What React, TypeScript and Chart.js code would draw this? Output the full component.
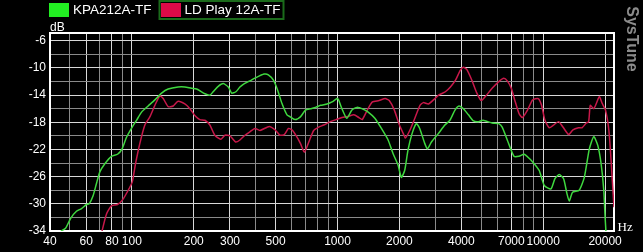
import React, { useEffect, useRef } from "react";
import { Chart, registerables } from "chart.js";

Chart.register(...registerables);

const seriesNames = ["KPA212A-TF", "LD Play 12A-TF"];

const kpaFreq = [45.2, 47.6, 50.5, 53.8, 56.9, 60.2, 62.0, 64.8, 67.3, 69.9, 73.9, 79.6, 85.2, 89.7, 94.2, 100.4, 105.4, 111.5, 120, 129.4, 139.5, 150.2, 167.9, 181, 195, 206.6, 226.5, 239.5, 248.5, 263, 278.3, 294.5, 305.9, 320.6, 335.4, 348.1, 375, 396.8, 439.2, 461, 488, 510.6, 536.5, 567.9, 589.4, 623.7, 660, 698.5, 739, 782, 827.6, 890, 940.7, 995, 1012, 1051, 1110, 1175, 1244, 1337, 1410, 1519, 1635, 1762, 1862, 1970, 2044, 2121, 2201, 2302, 2418, 2510, 2655, 2736, 2863, 3085, 3326, 3521, 3726, 3899, 4091, 4332, 4586, 4853, 5100, 5646, 6082, 6320, 6690, 7210, 7630, 8075, 8546, 9044, 9570, 10128, 10910, 11410, 11970, 12570, 13050, 13390, 13900, 14970, 15850, 16770, 17620, 18430, 19130, 19710, 20010, 20230];
const kpaDb = [-34, -33.6, -32.1, -31.1, -30.7, -30.1, -30.0, -28.8, -27.0, -25.3, -24.1, -23.0, -22.7, -21.9, -20.2, -18.7, -17.7, -16.5, -15.6, -14.7, -13.7, -13.1, -12.8, -12.8, -13.0, -13.1, -13.8, -14.0, -13.5, -12.7, -12.3, -12.8, -13.7, -13.5, -12.8, -12.4, -11.9, -11.5, -10.9, -11.0, -11.8, -13.2, -15.2, -16.9, -17.2, -17.6, -17.2, -16.2, -16.0, -15.8, -15.5, -15.3, -15.0, -14.5, -14.7, -16.0, -17.4, -16.2, -15.8, -16.1, -16.5, -17.4, -18.9, -20.6, -22.6, -24.3, -26.1, -25.1, -22.1, -19.7, -18.2, -18.9, -21.1, -21.9, -20.9, -19.7, -18.4, -17.7, -16.2, -15.6, -16.0, -16.9, -17.8, -17.9, -17.7, -18.1, -18.2, -18.7, -20.6, -23.0, -23.0, -22.7, -23.3, -24.1, -25.1, -27.3, -27.8, -26.3, -25.7, -26.3, -28.5, -29.6, -28.3, -28.0, -26.1, -21.9, -20.1, -21.4, -24.1, -28.0, -32.0, -34.5];

const ldFreq = [71.6, 75.3, 79.6, 85.2, 90.7, 96, 100.4, 104.2, 109.4, 115.7, 122.3, 129.4, 136.9, 142.1, 150.2, 158.9, 167.9, 181, 191.6, 202.4, 214, 226.5, 239.5, 253.3, 270.4, 283.6, 300, 319.6, 335.4, 354.7, 375, 396.8, 419.7, 466, 496.5, 525, 551, 577.7, 600, 627, 660, 690, 725, 766, 810, 857, 922, 985, 1051, 1133, 1200, 1271, 1319, 1396, 1478, 1593, 1705, 1785, 1890, 2000, 2091, 2140, 2245, 2377, 2518, 2613, 2766, 2929, 3101, 3345, 3540, 3747, 3945, 4091, 4251, 4501, 4760, 5003, 5235, 5646, 6082, 6434, 6690, 7000, 7270, 7630, 7930, 8390, 8880, 9460, 9820, 10200, 10700, 11230, 11880, 12480, 13300, 13960, 14860, 15440, 16210, 16640, 16950, 17600, 18150, 18770, 19350, 20100, 20870, 21440, 22090];
const ldDb = [-34, -31.5, -30.3, -30.1, -29.3, -28.0, -26.8, -24.1, -21.1, -18.4, -17.2, -15.5, -14.1, -14.5, -15.7, -15.6, -14.9, -15.3, -16.0, -17.0, -17.6, -17.7, -18.4, -19.9, -20.5, -19.9, -20.0, -20.9, -20.6, -19.9, -19.4, -18.9, -19.2, -18.6, -19.1, -19.9, -19.8, -18.9, -19.1, -19.9, -21.1, -22.4, -20.9, -19.2, -18.7, -18.4, -17.9, -17.6, -17.3, -17.1, -16.9, -17.3, -17.6, -16.2, -15.0, -14.8, -14.5, -14.8, -16.2, -18.4, -19.7, -20.3, -19.2, -17.4, -15.5, -15.1, -15.3, -14.7, -14.0, -13.5, -12.8, -11.8, -10.4, -9.9, -10.2, -11.8, -13.7, -14.8, -14.2, -13.0, -12.0, -11.5, -11.9, -13.0, -14.7, -16.7, -17.3, -16.2, -14.7, -14.5, -15.5, -17.7, -18.8, -18.4, -17.9, -18.7, -19.8, -19.1, -18.8, -18.8, -18.1, -17.9, -15.5, -16.0, -15.2, -14.2, -15.2, -16.2, -19.2, -24.1, -30.5];

const xGridTicks = [40, 50, 60, 70, 80, 90, 100, 200, 300, 400, 500, 600, 700, 800, 900, 1000, 2000, 3000, 4000, 5000, 6000, 7000, 8000, 9000, 10000, 20000];
const xLabelTicks = [40, 60, 80, 100, 200, 300, 500, 1000, 2000, 4000, 7000, 10000, 20000];
const yGridTicks = [-34, -32, -30, -28, -26, -24, -22, -20, -18, -16, -14, -12, -10, -8, -6];
const yLabelTicks = [-34, -30, -26, -22, -18, -14, -10, -6];

const X_MIN = 40;
const X_MAX = 22100;
const Y_MIN = -34;
const Y_MAX = -4.85;

const GREEN_LINE = "#3fd83f";
const RED_LINE = "#c8184a";
const GREEN_BOX = "#22ee22";
const RED_BOX = "#dc0a48";
const MAJOR_GRID = "#d8d8d8";
const MINOR_GRID = "#8a8a8a";

const decorPlugin = {
  id: "decor",
  beforeDraw(chart: any) {
    const ctx = chart.ctx;
    ctx.save();
    ctx.fillStyle = "#000";
    ctx.fillRect(0, 0, chart.width, chart.height);
    ctx.restore();
  },
  beforeDatasetsDraw(chart: any) {
    const { ctx, chartArea } = chart;
    ctx.save();
    ctx.strokeStyle = "#ffffff";
    ctx.lineWidth = 2;
    ctx.strokeRect(chartArea.left, chartArea.top, chartArea.right - chartArea.left, chartArea.bottom - chartArea.top);
    ctx.restore();
  },
  afterDraw(chart: any) {
    const { ctx, chartArea } = chart;
    ctx.save();
    // Legend
    ctx.font = "13.5px 'Liberation Sans', Arial, sans-serif";
    ctx.textBaseline = "middle";
    ctx.textAlign = "left";
    ctx.fillStyle = GREEN_BOX;
    ctx.fillRect(49, 3, 20, 14);
    ctx.fillStyle = "#ffffff";
    ctx.fillText(seriesNames[0], 73, 10.5);
    ctx.fillStyle = RED_BOX;
    ctx.fillRect(161, 3, 20, 14);
    ctx.fillStyle = "#ffffff";
    ctx.fillText(seriesNames[1], 184.5, 10.5);
    ctx.strokeStyle = "#1b6b1b";
    ctx.lineWidth = 2;
    ctx.strokeRect(159.5, 1, 124, 18);
    // axis units
    ctx.textBaseline = "alphabetic";
    ctx.font = "12px 'Liberation Sans', Arial, sans-serif";
    ctx.fillStyle = "#ffffff";
    ctx.fillText("dB", chartArea.left, chartArea.top - 2.5);
    ctx.font = "13px 'Liberation Serif', serif";
    ctx.fillText("Hz", chartArea.right + 3.5, chartArea.bottom);
    // watermark
    ctx.translate(631.5, 39);
    ctx.rotate(Math.PI / 2);
    ctx.textAlign = "center";
    ctx.textBaseline = "middle";
    ctx.font = "bold 16px 'Liberation Sans', Arial, sans-serif";
    ctx.fillStyle = "#8c8c8c";
    ctx.fillText("SysTune", 0, 0);
    ctx.restore();
  },
};

export default function App() {
  const canvasRef = useRef<HTMLCanvasElement | null>(null);

  useEffect(() => {
    document.body.style.margin = "0";
    const canvas = canvasRef.current;
    if (!canvas) return;
    const kpaPts = kpaFreq.map((f, i) => ({ x: f, y: kpaDb[i] }));
    const ldPts = ldFreq.map((f, i) => ({ x: f, y: ldDb[i] }));
    const chart = new Chart(canvas, {
      type: "line",
      data: {
        datasets: [
          { label: seriesNames[0], data: kpaPts, borderColor: GREEN_LINE, backgroundColor: GREEN_LINE, borderWidth: 1.5, pointRadius: 0, tension: 0.2, fill: false },
          { label: seriesNames[1], data: ldPts, borderColor: RED_LINE, backgroundColor: RED_LINE, borderWidth: 1.5, pointRadius: 0, tension: 0.2, fill: false },
        ],
      },
      options: {
        animation: false,
        responsive: true,
        maintainAspectRatio: false,
        layout: { padding: { top: 33, right: 29, left: 0, bottom: 0 } },
        plugins: { legend: { display: false }, tooltip: { enabled: false } },
        scales: {
          x: {
            type: "logarithmic",
            min: X_MIN,
            max: X_MAX,
            afterBuildTicks: (scale: any) => {
              scale.ticks = xGridTicks.map((v) => ({ value: v }));
            },
            afterFit: (scale: any) => {
              scale.height = 21;
            },
            ticks: {
              autoSkip: false,
              maxRotation: 0,
              minRotation: 0,
              padding: 3,
              color: "#ffffff",
              font: { family: "'Liberation Sans', Arial, sans-serif", size: 12 },
              callback: (v: any) => (xLabelTicks.includes(Number(v)) ? String(v) : ""),
            },
            grid: {
              drawTicks: false,
              lineWidth: 1,
              color: (c: any) => (c.tick && xLabelTicks.includes(c.tick.value) ? MAJOR_GRID : MINOR_GRID),
            },
            border: { display: false },
          },
          y: {
            type: "linear",
            min: Y_MIN,
            max: Y_MAX,
            afterBuildTicks: (scale: any) => {
              scale.ticks = yGridTicks.map((v) => ({ value: v }));
            },
            afterFit: (scale: any) => {
              scale.width = 50;
            },
            ticks: {
              autoSkip: false,
              padding: 4,
              color: "#ffffff",
              font: { family: "'Liberation Sans', Arial, sans-serif", size: 12 },
              callback: (v: any) => (yLabelTicks.includes(Number(v)) ? String(v) : ""),
            },
            grid: {
              drawTicks: false,
              lineWidth: 1,
              color: (c: any) => (c.tick && yLabelTicks.includes(c.tick.value) ? MAJOR_GRID : MINOR_GRID),
            },
            border: { display: false },
          },
        },
      },
      plugins: [decorPlugin],
    });
    return () => chart.destroy();
  }, []);

  return (
    <div style={{ position: "fixed", left: 0, top: 0, width: 643, height: 252, background: "#000" }}>
      <canvas ref={canvasRef} />
    </div>
  );
}
